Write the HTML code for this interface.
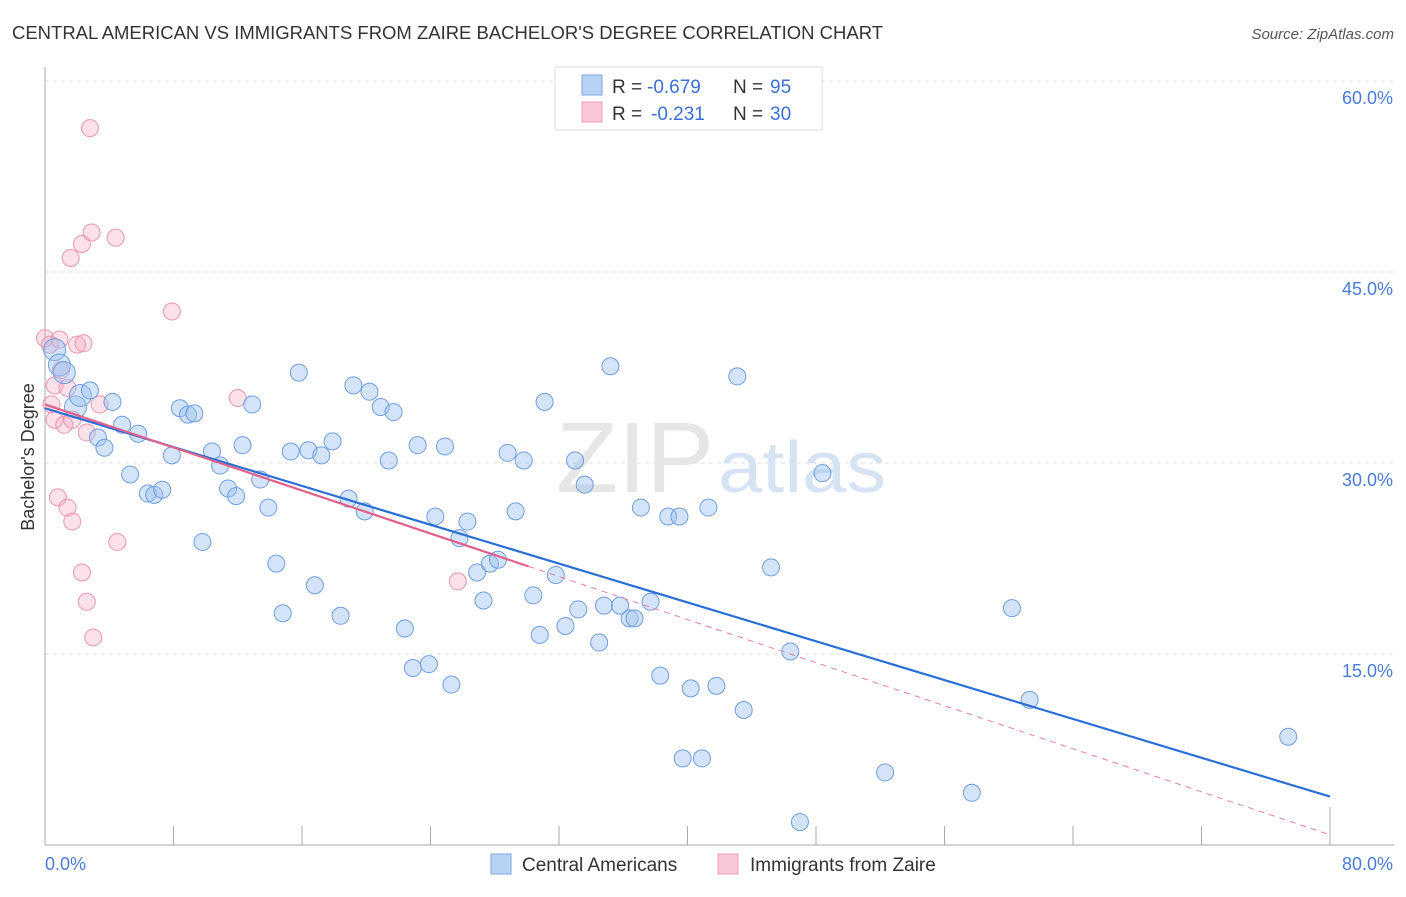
<!DOCTYPE html>
<html><head><meta charset="utf-8"><style>
body{margin:0;background:#fff;font-family:"Liberation Sans",sans-serif;}
svg text{font-family:"Liberation Sans",sans-serif;}
</style></head><body>
<svg width="1406" height="892" xmlns="http://www.w3.org/2000/svg">
<text x="12" y="39" font-size="18.5" fill="#333" textLength="871" lengthAdjust="spacingAndGlyphs">CENTRAL AMERICAN VS IMMIGRANTS FROM ZAIRE BACHELOR'S DEGREE CORRELATION CHART</text>
<text x="1394" y="39" font-size="15" fill="#555" font-style="italic" text-anchor="end">Source: ZipAtlas.com</text>
<g id="grid"></g>
<text x="714" y="492" font-size="100" fill="#e6e6e6" text-anchor="end" font-family="Liberation Serif" textLength="158" lengthAdjust="spacingAndGlyphs">ZIP</text>
<text x="718" y="492" font-size="72" fill="#d6e3f3" textLength="168" lengthAdjust="spacingAndGlyphs">atlas</text>
<g id="marks"></g>
<text transform="translate(34,457) rotate(-90)" font-size="18" fill="#333" text-anchor="middle">Bachelor's Degree</text>
<g>
<rect x="555" y="67" width="267" height="63" fill="#fff" stroke="#ddd"/>
<rect x="582" y="75" width="20" height="20" fill="#b8d2f3" stroke="#7aa6e0"/>
<rect x="582" y="102" width="20" height="20" fill="#f8c6d4" stroke="#e9a0b6"/>
<text x="612" y="93" font-size="19" fill="#333">R =</text>
<text x="647" y="93" font-size="19" fill="#3a6fd8">-0.679</text>
<text x="733" y="93" font-size="19" fill="#333">N =</text>
<text x="770" y="93" font-size="19" fill="#3a6fd8">95</text>
<text x="612" y="120" font-size="19" fill="#333">R =</text>
<text x="651" y="120" font-size="19" fill="#3a6fd8">-0.231</text>
<text x="733" y="120" font-size="19" fill="#333">N =</text>
<text x="770" y="120" font-size="19" fill="#3a6fd8">30</text>
</g>
<g>
<rect x="491" y="854" width="20" height="20" fill="#b8d2f3" stroke="#7aa6e0"/>
<text x="522" y="871" font-size="19" fill="#333">Central Americans</text>
<rect x="718" y="854" width="20" height="20" fill="#f8c6d4" stroke="#e9a0b6"/>
<text x="750" y="871" font-size="19" fill="#333">Immigrants from Zaire</text>
</g>
</svg>
<script>
const yTicks=[15,30,45,60];
const yTickLabels=["15.0%","30.0%","45.0%","60.0%"];
const xTickCount=10;
const blueX=[0.6,0.9,1.2,1.9,2.2,2.8,4.2,3.3,3.7,4.8,5.8,5.3,6.4,6.8,7.3,7.9,8.4,8.9,9.3,9.8,10.4,10.9,11.4,11.9,12.3,12.9,13.4,13.9,14.4,14.8,15.3,15.8,16.4,16.8,17.2,17.9,18.4,18.9,19.2,19.9,20.2,20.9,21.7,21.4,22.4,22.9,23.2,23.9,24.3,24.9,25.3,25.8,26.3,26.9,27.3,27.7,28.2,28.8,29.3,29.8,30.4,30.8,31.1,31.8,32.4,33.0,33.2,33.6,34.5,34.8,35.2,35.8,36.4,36.7,37.1,37.7,38.3,38.8,39.5,39.7,40.2,40.9,41.3,41.8,43.1,43.5,45.2,46.4,47.0,48.4,52.3,57.7,60.2,61.3,77.4];
const blueY=[38.9,37.7,37.1,34.4,35.3,35.7,34.8,32.0,31.2,33.0,32.3,29.1,27.6,27.5,27.9,30.6,34.3,33.8,33.9,23.8,30.9,29.8,28.0,27.4,31.4,34.6,28.7,26.5,22.1,18.2,30.9,37.1,31.0,20.4,30.6,31.7,18.0,27.2,36.1,26.2,35.6,34.4,34.0,30.2,17.0,13.9,31.4,14.2,25.8,31.3,12.6,24.1,25.4,21.4,19.2,22.1,22.4,30.8,26.2,30.2,19.6,16.5,34.8,21.2,17.2,30.2,18.5,28.3,15.9,18.8,37.6,18.8,17.8,17.8,26.5,19.1,13.3,25.8,25.8,6.8,12.3,6.8,26.5,12.5,36.8,10.6,21.8,15.2,1.8,29.2,5.7,4.1,18.6,11.4,8.5];
const pinkX=[2.8,1.6,2.3,2.9,4.4,7.9,0,0.9,2.0,2.4,0.6,1.4,1.0,0.4,3.4,12.0,0.6,1.2,1.7,2.6,0.8,1.4,1.7,4.5,2.3,2.6,3.0,25.7,0.3];
const pinkY=[56.3,46.1,47.2,48.1,47.7,41.9,39.8,39.7,39.3,39.4,36.1,35.9,37.3,34.6,34.6,35.1,33.4,33.0,33.4,32.4,27.3,26.5,25.4,23.8,21.4,19.1,16.3,20.7,39.3];
const blueLine=[34.3,3.8];
const pinkLine=[34.6,0.8];
const pinkSolidEnd=30.1;

const NS="http://www.w3.org/2000/svg";
const X=v=>45+v/80*1285;
const Y=v=>845-v/15*191;
function mk(t,a,p){const e=document.createElementNS(NS,t);for(const k in a)e.setAttribute(k,a[k]);p.appendChild(e);return e;}
const grid=document.getElementById('grid');
const marks=document.getElementById('marks');
yTicks.forEach((t,i)=>{
  const l=mk('line',{x1:45,x2:1394,y1:Y(t),y2:Y(t),stroke:'#ddd','stroke-dasharray':'4,4'},grid);
  
  
  const tx=mk('text',{x:1393,y:Y(t)+23,'font-size':18,fill:'#4a7bd8','text-anchor':'end'},grid);
  tx.textContent=yTickLabels[i];
  
  
});
const ax=mk('line',{x1:45,x2:1394,y1:845,y2:845,stroke:'#aaa'},grid);


const ay=mk('line',{x1:45,x2:45,y1:67,y2:845,stroke:'#aaa'},grid);


for(let i=1;i<=xTickCount;i++){
  const v=i*80/xTickCount;
  const t=mk('line',{x1:X(v),x2:X(v),y1:i==xTickCount?807:826,y2:845,stroke:'#aaa'},grid);
  
  
}
const xl0=mk('text',{x:45,y:870,'font-size':18,fill:'#4a7bd8'},grid);xl0.textContent='0.0%';


const xl1=mk('text',{x:1393,y:870,'font-size':18,fill:'#4a7bd8','text-anchor':'end'},grid);xl1.textContent='80.0%';



pinkX.forEach((x,i)=>{
  const c=mk('circle',{cx:X(x),cy:Y(pinkY[i]),r:8.5,fill:'rgba(245,170,195,0.35)',stroke:'#e996b0','stroke-width':1},marks);
  
  
});
blueX.forEach((x,i)=>{
  const c=mk('circle',{cx:X(x),cy:Y(blueY[i]),r:i<5?11:8.5,fill:'rgba(160,196,240,0.45)',stroke:'#6f9de0','stroke-width':1},marks);
  
  
});
const bl=mk('line',{x1:X(0),y1:Y(blueLine[0]),x2:X(80),y2:Y(blueLine[1]),stroke:'#2a6fd6','stroke-width':2.2},marks);


const py=x=>pinkLine[0]+(pinkLine[1]-pinkLine[0])*x/80;
const pd=mk('line',{x1:X(pinkSolidEnd),y1:Y(py(pinkSolidEnd)),x2:X(80),y2:Y(pinkLine[1]),stroke:'#e8809f','stroke-width':1,'stroke-dasharray':'6,5'},marks);


const ps=mk('line',{x1:X(0),y1:Y(pinkLine[0]),x2:X(pinkSolidEnd),y2:Y(py(pinkSolidEnd)),stroke:'#e2618a','stroke-width':2.2},marks);


</script>
</body></html>
